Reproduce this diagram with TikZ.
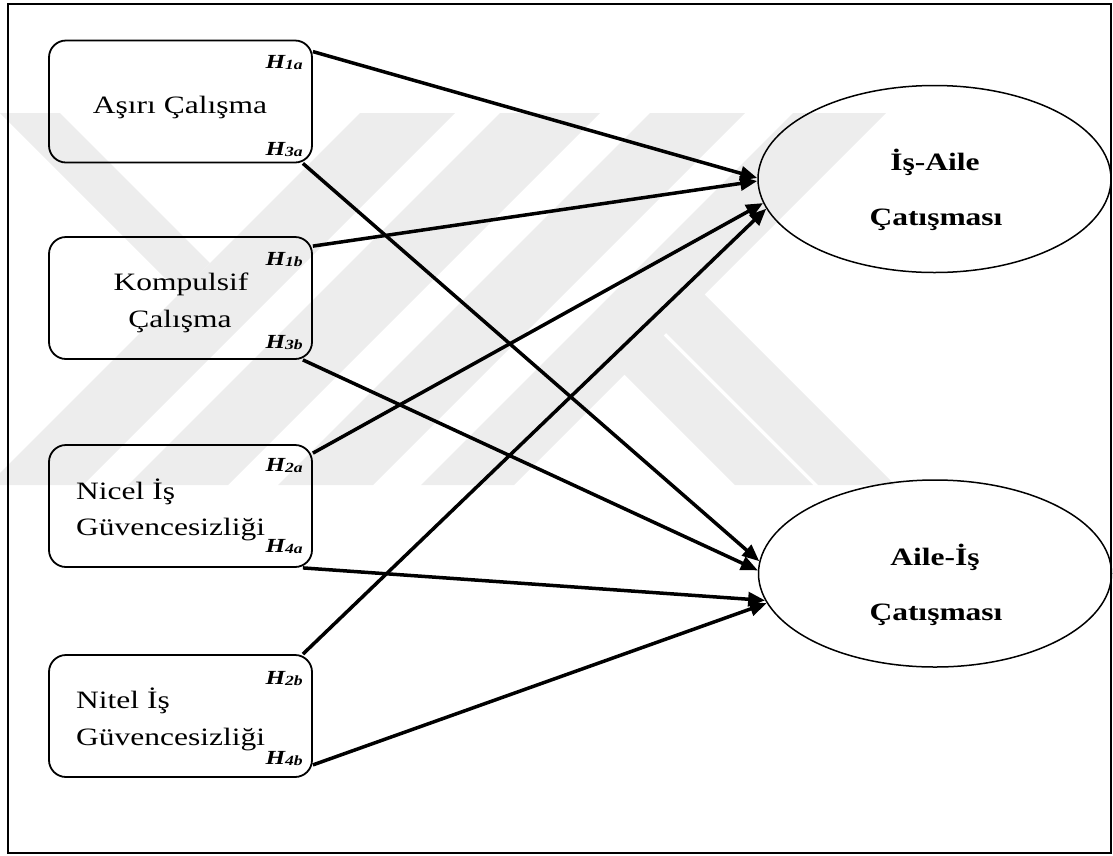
\documentclass[tikz,border=0pt]{standalone}
\usepackage{fontspec}
\setmainfont{Liberation Serif}[FakeStretch=1.26]
\usetikzlibrary{arrows.meta,shapes.geometric}
\newcommand\hlab[1]{\textit{H}\raisebox{-1pt}{\fontsize{14}{14}\selectfont #1}}
\begin{document}
\begin{tikzpicture}[x=1pt,y=-1pt,
  wm/.style={fill=black!7,draw=none},
  frame/.style={draw=black,line width=2pt},
  varbox/.style={draw=black,line width=1.8pt,rounded corners=17pt,minimum width=263pt,minimum height=122pt,inner sep=0pt},
  latent/.style={draw=black,line width=1.5pt,ellipse,minimum width=353pt,minimum height=187pt,inner sep=0pt},
  txt/.style={inner sep=0pt,font=\fontsize{25}{30}\selectfont},
  btxt/.style={inner sep=0pt,anchor=base,font=\fontsize{25}{30}\selectfont\bfseries},
  hyp/.style={inner sep=0pt,anchor=base east,font=\fontsize{20}{24}\selectfont\bfseries\itshape},
  link/.style={line width=3.5pt,-{Triangle[length=17pt,width=14pt]}}
]
\useasboundingbox (0,0) rectangle (1113,855);
% watermark
\fill[wm] (0,113) -- (60,113) -- (210,263) -- (180,293) -- cycle;
\fill[wm] (360,113) -- (455,113) -- (83,485) -- (-12,485) -- cycle;
\fill[wm] (500,113) -- (600,113) -- (228,485) -- (128,485) -- cycle;
\fill[wm] (650,113) -- (745,113) -- (373,485) -- (278,485) -- cycle;
\fill[wm] (793,113) -- (886,113) -- (514,485) -- (421,485) -- cycle;
\fill[wm] (620,370) -- (660,332) -- (813,485) -- (735,485) -- cycle;
\fill[wm] (665,332) -- (703,293) -- (895,485) -- (818,485) -- cycle;
% frame
\draw[frame] (8,4) rectangle (1111,853);
% boxes
\node[varbox] (b1) at (180.5,101.5) {};
\node[varbox] (b2) at (180.5,298) {};
\node[varbox] (b3) at (180.5,506) {};
\node[varbox] (b4) at (180.5,716) {};
\node[txt,anchor=base] (t1) at (180,113) {Aşırı Çalışma};
\node[txt,anchor=base] (t2a) at (181,290) {Kompulsif};
\node[txt,anchor=base] (t2b) at (180,327) {Çalışma};
\node[txt,anchor=base west] (t3a) at (76,499) {Nicel İş};
\node[txt,anchor=base west] (t3b) at (76,535) {Güvencesizliği};
\node[txt,anchor=base west] (t4a) at (76,708) {Nitel İş};
\node[txt,anchor=base west] (t4b) at (76,745) {Güvencesizliği};
% hypothesis labels
\node[hyp] (h1a) at (303,68) {\hlab{1a}};
\node[hyp] (h3a) at (303,155) {\hlab{3a}};
\node[hyp] (h1b) at (303,265) {\hlab{1b}};
\node[hyp] (h3b) at (303,348) {\hlab{3b}};
\node[hyp] (h2a) at (303,471) {\hlab{2a}};
\node[hyp] (h4a) at (303,552) {\hlab{4a}};
\node[hyp] (h2b) at (303,684) {\hlab{2b}};
\node[hyp] (h4b) at (303,764) {\hlab{4b}};
% ellipses
\node[latent] (e1) at (934.5,179) {};
\node[latent] (e2) at (935,573.5) {};
\node[btxt] (e1a) at (935,170) {İş-Aile};
\node[btxt] (e1b) at (936,225) {Çatışması};
\node[btxt] (e2a) at (935,565) {Aile-İş};
\node[btxt] (e2b) at (936,620) {Çatışması};
% connectors
\draw[link] ([yshift=-12pt]b1.north east) -- ([yshift=1pt]e1.west);
\draw[link] ([yshift=-10pt]b2.north east) -- ([yshift=-2pt]e1.west);
\draw[link] ([yshift=-9pt]b3.north east) -- (e1.188.5);
\draw[link] ([xshift=-10pt]b4.north east) -- (e1.190);
\draw[link] ([xshift=-10pt]b1.south east) -- (e2.176.5);
\draw[link] ([xshift=-10pt]b2.south east) -- (e2.179);
\draw[link] ([xshift=-10pt]b3.south east) -- (e2.189);
\draw[link] ([yshift=13pt]b4.south east) -- (e2.190.5);
\end{tikzpicture}
\end{document}
